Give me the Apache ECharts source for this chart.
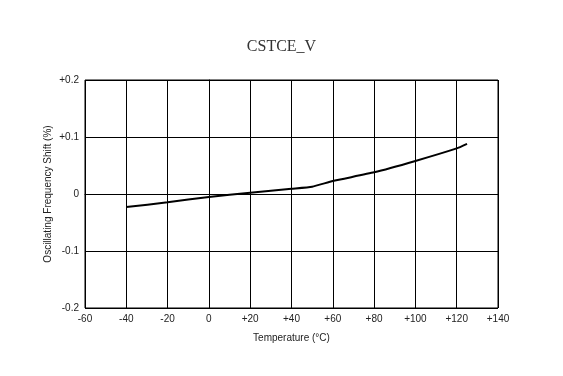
<!DOCTYPE html>
<html>
<head>
<meta charset="utf-8">
<script src="https://cdn.jsdelivr.net/npm/echarts@6/dist/echarts.min.js"></script>
<style>
  html, body { margin: 0; padding: 0; background: #fff; }
  #charts { width: 563px; height: 376px; }
</style>
</head>
<body>
<div id="charts"></div>
<script>
// temperature (°C) vs frequency shift (%)
var temps = [-40, -20, 0, 20, 40, 50, 60, 80, 100, 120, 125];
var shift = [-0.023, -0.0145, -0.0052, 0.0022, 0.0092, 0.0128, 0.0228, 0.038, 0.058, 0.080, 0.088];

function signed(v) {
  if (Math.abs(v) < 1e-9) return '0';
  return (v > 0 ? '+' : '') + v;
}

var myChart = echarts.init(document.getElementById('charts'));
var option = {
  animation: false,
  title: {
    text: 'CSTCE_V',
    left: 'center',
    top: 34,
    textStyle: { fontFamily: 'Liberation Serif', fontWeight: 'normal', fontSize: 16, color: '#333' }
  },
  grid: { left: 85, right: 65, top: 80, bottom: 68, show: true, borderColor: '#000', borderWidth: 1 },
  xAxis: {
    type: 'value', min: -60, max: 140, interval: 20,
    name: 'Temperature (°C)', nameLocation: 'middle', nameGap: 25,
    nameTextStyle: { fontFamily: 'Liberation Sans', fontSize: 10, color: '#222' },
    axisLine: { lineStyle: { color: '#000' } },
    axisTick: { show: false },
    axisLabel: { fontFamily: 'Liberation Sans', fontSize: 10, color: '#222', margin: 6,
      formatter: function (v) { return signed(v); } },
    splitLine: { lineStyle: { color: '#000', width: 1 } }
  },
  yAxis: {
    type: 'value', min: -0.2, max: 0.2, interval: 0.1,
    name: 'Oscillating Frequency Shift (%)', nameLocation: 'middle', nameGap: 32,
    nameMoveOverlap: false,
    nameTextStyle: { fontFamily: 'Liberation Sans', fontSize: 10, color: '#222' },
    axisLine: { lineStyle: { color: '#000' } },
    axisTick: { show: false },
    axisLabel: { fontFamily: 'Liberation Sans', fontSize: 10, color: '#222', margin: 6,
      formatter: function (v) { return signed(Math.round(v * 10) / 10); } },
    splitLine: { lineStyle: { color: '#000', width: 1 } }
  },
  series: [{
    type: 'line',
    data: temps.map(function (t, i) { return [t, shift[i]]; }),
    showSymbol: false,
    smooth: 0.15,
    lineStyle: { color: '#000', width: 2 }
  }]
};
myChart.setOption(option);
</script>
</body>
</html>
